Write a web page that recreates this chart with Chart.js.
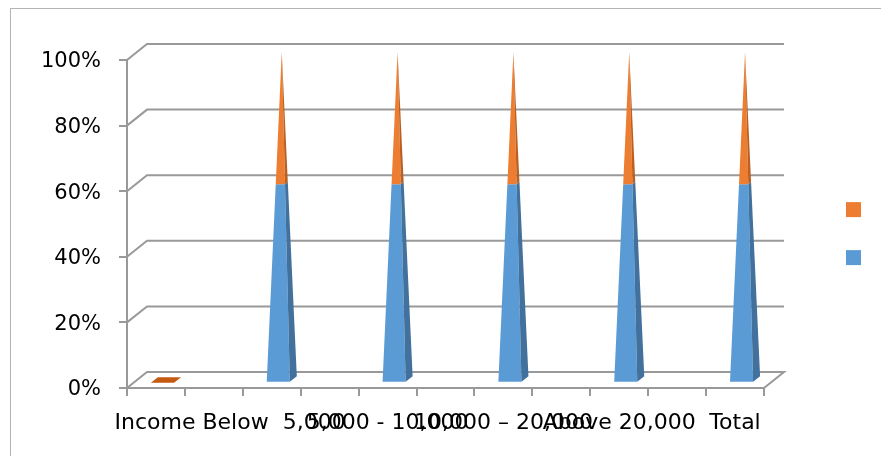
<!DOCTYPE html>
<html>
<head>
<meta charset="utf-8">
<script src="https://cdn.jsdelivr.net/npm/chart.js@4.4.1/dist/chart.umd.min.js"></script>
<style>
  html, body { margin: 0; padding: 0; background: #fff; }
  #wrap { position: relative; width: 881px; height: 456px; overflow: hidden; }
  #myChart { display: block; }
  #frame { position: absolute; left: 10px; top: 8px; width: 1000px; height: 1000px;
           border-left: 1px solid #b4b4b4; border-top: 1px solid #b4b4b4; pointer-events: none; }
</style>
</head>
<body>
<div id="wrap">
  <canvas id="myChart" width="881" height="456"></canvas>
  <div id="frame"></div>
</div>
<script>
// 11 category slots on the axis, pyramids sit on every other one
const categories = ['', '', '', '', '', '', '', '', '', '', ''];
const shareLower = [0, null, 60, null, 60, null, 60, null, 60, null, 60];
const shareUpper = [0, null, 40, null, 40, null, 40, null, 40, null, 40];
const seriesNames = ['', ''];

// axis text and where it sits (in category slots)
const tickLabels = ['Income Below  5,000', '5,000 - 10,000', '10,000 \u2013 20,000', 'Above 20,000', 'Total'];
const tickSlots = [1.28, 4, 6, 8, 10];

const gridColor = '#999999';
const frontColors = ['#5b9bd5', '#ed7d31'];
const sideColors = ['#41719c', '#bb6020'];
const flatColors = ['#41719c', '#c55a11'];
const depthX = 20, depthY = -16, pyramidDepth = 0.35;

Chart.defaults.font.family = 'DejaVu Sans';

const walls = {
  id: 'walls',
  beforeDatasetsDraw(chart) {
    const {ctx, chartArea: a, scales: {y}} = chart;
    ctx.save();
    ctx.strokeStyle = gridColor;
    ctx.lineWidth = 2;
    y.ticks.forEach(t => {
      const py = y.getPixelForValue(t.value);
      ctx.beginPath();
      ctx.moveTo(a.left, py);
      ctx.lineTo(a.left + depthX, py + depthY);
      ctx.lineTo(a.right + depthX, py + depthY);
      if (t.value === 0) ctx.lineTo(a.right, py);
      ctx.stroke();
    });
    ctx.restore();
  },
  beforeDatasetDraw() { return false; },
  afterDatasetsDraw(chart) {
    const {ctx, scales: {y}} = chart;
    const sets = chart.data.datasets;
    const metas = sets.map((d, k) => chart.getDatasetMeta(k));
    const base0 = y.getPixelForValue(0);
    const cyBase = base0 + depthY / 2;
    const pdx = depthX * pyramidDepth, pdy = depthY * pyramidDepth;
    ctx.save();
    categories.forEach((c, i) => {
      const segs = metas.map((m, k) => ({bar: m.data[i], k: k, v: sets[k].data[i]}))
        .filter(s => s.v !== null && s.bar);
      if (!segs.length) return;
      const top = Math.min(...segs.map(s => s.bar.y));
      const H = base0 - top;
      const hw = segs[0].bar.width / 2;
      const cx = segs[0].bar.x + depthX / 2;
      const pt = (f, sx, sz) => {
        const s = 1 - f;
        return [cx + s * (sx * hw + sz * pdx / 2), cyBase - f * H + s * sz * pdy / 2];
      };
      const poly = (pts, color) => {
        ctx.beginPath();
        ctx.moveTo(pts[0][0], pts[0][1]);
        pts.slice(1).forEach(p => ctx.lineTo(p[0], p[1]));
        ctx.closePath();
        ctx.fillStyle = color;
        ctx.fill();
      };
      if (H < 0.5) {
        const k = segs[segs.length - 1].k;
        poly([pt(0, -1, -1), pt(0, 1, -1), pt(0, 1, 1), pt(0, -1, 1)], flatColors[k]);
        return;
      }
      segs.forEach(s => {
        const f0 = (base0 - s.bar.base) / H, f1 = (base0 - s.bar.y) / H;
        poly([pt(f0, -1, -1), pt(f0, 1, -1), pt(f1, 1, -1), pt(f1, -1, -1)], frontColors[s.k]);
        poly([pt(f0, 1, -1), pt(f0, 1, 1), pt(f1, 1, 1), pt(f1, 1, -1)], sideColors[s.k]);
      });
    });
    ctx.restore();
  }
};

const ctx = document.getElementById('myChart').getContext('2d');
const myChart = new Chart(ctx, {
  type: 'bar',
  data: {
    labels: categories,
    datasets: [
      { label: seriesNames[0], data: shareLower, backgroundColor: frontColors[0], borderWidth: 0,
        categoryPercentage: 1, barPercentage: 0.4 },
      { label: seriesNames[1], data: shareUpper, backgroundColor: frontColors[1], borderWidth: 0,
        categoryPercentage: 1, barPercentage: 0.4 }
    ]
  },
  options: {
    responsive: false,
    animation: false,
    layout: { padding: { top: 60, left: 0, right: 4, bottom: 5.6 } },
    plugins: {
      tooltip: { enabled: false },
      legend: {
        position: 'right',
        fullSize: false,
        reverse: true,
        title: { display: true, text: '', padding: 0, font: { size: 16 } },
        labels: { boxWidth: 15, boxHeight: 15, padding: 33, font: { size: 12 } }
      }
    },
    scales: {
      x: {
        type: 'category', stacked: true, offset: true,
        grid: { offset: true, drawOnChartArea: false, tickLength: 8, color: gridColor, lineWidth: 2 },
        border: { color: gridColor, width: 2 },
        ticks: { display: false }
      },
      xl: {
        type: 'linear', position: 'bottom', min: -0.5, max: 10.5, offset: false,
        grid: { display: false, drawTicks: false, offset: false },
        border: { display: false },
        afterBuildTicks(s) { s.ticks = tickSlots.map(v => ({ value: v })); },
        ticks: {
          autoSkip: false, maxRotation: 0, minRotation: 0, padding: 14,
          color: '#000', font: { size: 22 },
          callback: (v, i) => tickLabels[i]
        }
      },
      y: {
        stacked: true, min: 0, max: 100,
        afterFit(s) { s.width = 127; },
        grid: { drawOnChartArea: false, tickLength: 8, color: gridColor, lineWidth: 2 },
        border: { color: gridColor, width: 2 },
        ticks: { stepSize: 20, padding: 18, labelOffset: 2, color: '#000', font: { size: 21 }, callback: v => v + '%' }
      },
      depth: {
        type: 'linear', position: 'right',
        grid: { display: false, drawTicks: false },
        border: { display: false },
        ticks: { display: false },
        afterFit(s) { s.width = 49; }
      }
    }
  },
  plugins: [walls]
});
</script>
</body>
</html>
